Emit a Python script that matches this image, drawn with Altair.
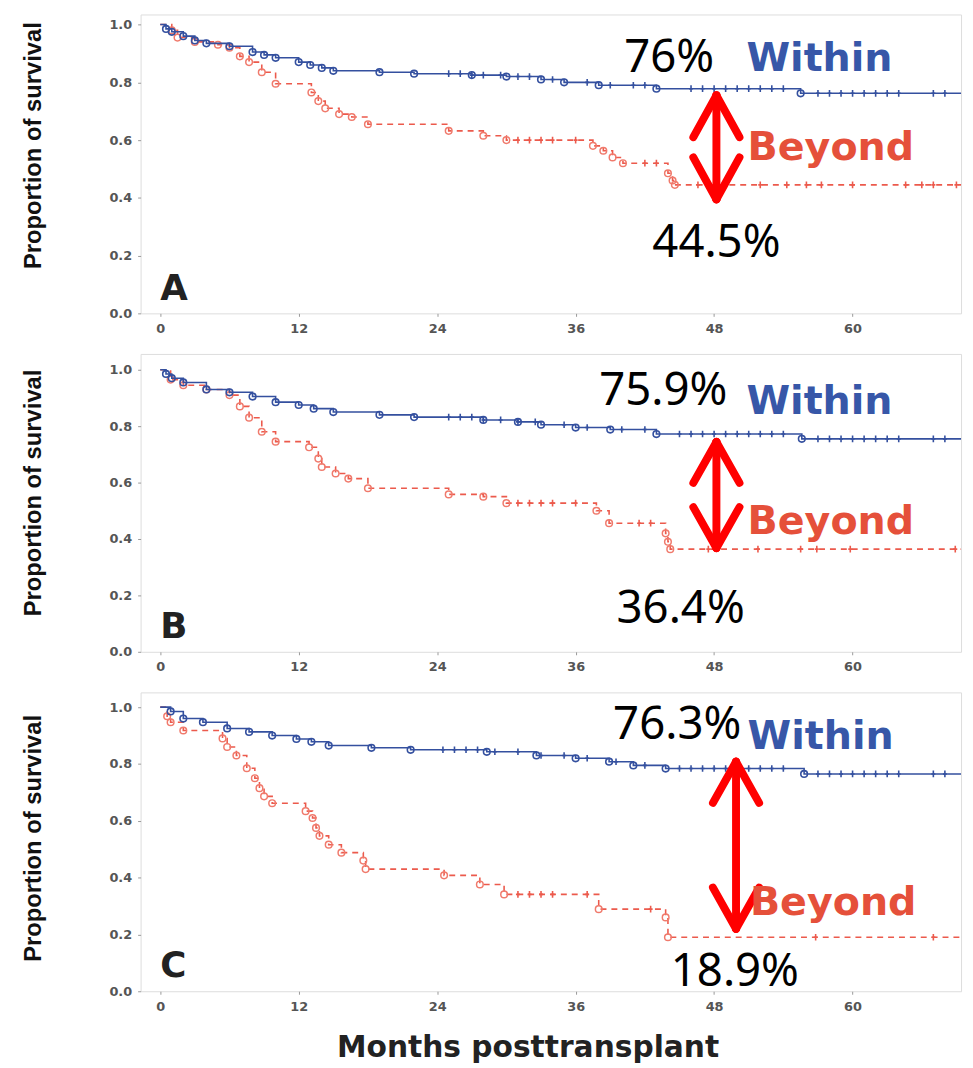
import altair as alt
import pandas as pd

# ---------------- data ----------------
X_DOMAIN = [-1.7, 69.4]
y_top = [1.035, 1.056, 1.052]
panel_heights = [302, 301, 302]
x_ticks = [0, 12, 24, 36, 48, 60]
y_ticks = [0.0, 0.2, 0.4, 0.6, 0.8, 1.0]
panel_letters = ["A", "B", "C"]

# Panel A
a_within_t = [0, 0.5, 1, 2, 3, 4, 6, 8, 9, 10, 12, 13, 14, 15, 19, 22, 27, 30, 33, 35, 38, 43, 55.5, 69.4]
a_within_s = [1.0, 0.985, 0.975, 0.96, 0.945, 0.935, 0.925, 0.905, 0.895, 0.885, 0.87, 0.86, 0.85, 0.84,
              0.835, 0.83, 0.825, 0.82, 0.81, 0.80, 0.79, 0.778, 0.762, 0.762]
a_beyond_t = [0, 1.0, 1.5, 3, 5, 6, 6.9, 7.7, 8.8, 10, 13.1, 13.7, 14.3, 15.5, 16.6, 18, 25, 28, 30,
              37.5, 38.4, 39.2, 40.1, 44, 44.4, 44.6, 69.4]
a_beyond_s = [1.0, 0.98, 0.955, 0.94, 0.93, 0.92, 0.89, 0.87, 0.835, 0.795, 0.765, 0.735, 0.71, 0.69, 0.68,
              0.655, 0.632, 0.615, 0.6, 0.58, 0.563, 0.54, 0.52, 0.485, 0.46, 0.445, 0.445]
a_within_plus = [25, 26, 27, 28, 29.5, 31, 32, 34, 37, 39, 41, 42, 46, 47, 48, 49, 50, 51, 52, 53, 54,
                 57, 58, 59, 60, 61, 62, 63, 64, 67, 68]
a_beyond_plus = [31, 32, 33, 34, 36, 42, 43, 46.6, 52, 54.3, 56, 57.3, 60, 64.6, 66, 67, 69]

# Panel B
b_within_t = [0, 0.5, 1, 2, 4, 6, 8, 10, 12, 13.3, 15, 19, 22, 28, 31, 33, 36, 39, 43, 55.6, 69.4]
b_within_s = [1.0, 0.985, 0.97, 0.955, 0.93, 0.92, 0.905, 0.885, 0.875, 0.862, 0.85, 0.84, 0.832, 0.822,
              0.815, 0.805, 0.795, 0.788, 0.772, 0.755, 0.755]
b_beyond_t = [0, 0.9, 2, 4, 6, 6.9, 7.7, 8.8, 10, 12.9, 13.7, 14, 15.2, 16.3, 18, 25, 28, 30, 37.8, 38.9,
              43.8, 44, 44.2, 69.4]
b_beyond_s = [1.0, 0.965, 0.945, 0.93, 0.91, 0.87, 0.83, 0.78, 0.745, 0.725, 0.685, 0.655, 0.632, 0.614,
              0.58, 0.558, 0.55, 0.527, 0.5, 0.456, 0.42, 0.39, 0.364, 0.364]
b_within_plus = [25, 26, 27, 28, 29.5, 31, 32.5, 35, 37, 40, 42, 45, 46, 47, 48, 49, 50, 51, 52, 53, 54,
                 57, 58, 59, 60, 61, 62, 63, 64, 67, 68]
b_beyond_plus = [31, 32, 33, 34, 36, 41.5, 42.5, 47.5, 51.8, 55.5, 56.9, 59.8, 68.9]

# Panel C
c_within_t = [0, 0.9, 2, 3.7, 5.8, 7.7, 9.7, 11.8, 13.1, 14.6, 18.3, 21.7, 28.3, 32.6, 36, 38.9, 41, 43.8,
              55.8, 69.4]
c_within_s = [1.0, 0.985, 0.96, 0.947, 0.925, 0.913, 0.9, 0.888, 0.878, 0.865, 0.857, 0.85, 0.843, 0.83,
              0.82, 0.808, 0.795, 0.784, 0.765, 0.765]
c_beyond_t = [0, 0.6, 0.9, 2, 5.4, 5.8, 6.6, 7.5, 8.2, 8.6, 9, 9.7, 12.6, 13.2, 13.5, 13.8, 14.6, 15.7,
              17.6, 17.8, 24.6, 27.7, 29.8, 38, 43.8, 44, 69.4]
c_beyond_s = [1.0, 0.968, 0.947, 0.918, 0.89, 0.86, 0.83, 0.785, 0.75, 0.715, 0.686, 0.662, 0.634, 0.61,
              0.575, 0.547, 0.516, 0.488, 0.46, 0.43, 0.408, 0.376, 0.341, 0.289, 0.26, 0.19, 0.19]
c_within_plus = [24.5, 25.5, 26.5, 27.5, 29, 31, 33, 35, 37, 39.5, 42, 45, 46, 47, 48, 49, 50, 51, 52, 53,
                 54, 57, 58, 59, 60, 61, 62, 63, 64, 67, 68]
c_beyond_plus = [31, 32, 33, 34, 37, 42.5, 56.8, 67]

# Annotations (data units)
pct_top_text = ["76%", "75.9%", "76.3%"]
pct_top_x = [44.1, 43.6, 44.8]
pct_top_y = [0.835, 0.874, 0.889]
pct_bot_text = ["44.5%", "36.4%", "18.9%"]
pct_bot_x = [48.2, 45.1, 49.8]
pct_bot_y = [0.195, 0.102, 0.02]
within_lab_x = [50.8, 50.8, 50.9]
within_lab_y = [0.84, 0.842, 0.854]
beyond_lab_x = [50.9, 50.9, 51.1]
beyond_lab_y = [0.53, 0.418, 0.268]
arrow_x = [48.2, 48.2, 49.9]
arrow_top = [0.755, 0.744, 0.808]
arrow_bottom = [0.395, 0.368, 0.22]
head_dx = 2.0
head_dy = 0.145
letter_x = [0.0, 0.0, 0.0]
letter_y = [0.045, 0.05, 0.05]
ytitle_pos = [132, 140, 147]

BLUE = "#34509f"
RED = "#ec5a4c"
RED_MARK = "#f07a6c"
WITHIN_TXT = "#3757a8"
BEYOND_TXT = "#e5503a"


def step_val(ts, ss, t):
    v = ss[0]
    for ti, si in zip(ts, ss):
        if ti <= t:
            v = si
    return v


def panel(i, wt, ws, bt, bs, wplus, bplus, last):
    axis_kw = dict(values=x_ticks, labelFont="DejaVu Sans", labelFontWeight="bold", labelFontSize=13,
                   labelColor="#555", tickSize=3, tickColor="#999", domain=False, grid=False,
                   labelPadding=6)
    if last:
        axis_kw.update(title="Months posttransplant", titleFont="DejaVu Sans", titleFontSize=30,
                       titleFontWeight="bold", titleColor="#222", titleX=391, titleY=66,
                       titleBaseline="alphabetic")
    else:
        axis_kw.update(title=None)
    X = alt.X("t:Q", scale=alt.Scale(domain=X_DOMAIN, nice=False, zero=False), axis=alt.Axis(**axis_kw))
    Y = alt.Y("s:Q", scale=alt.Scale(domain=[0, y_top[i]], nice=False),
              axis=alt.Axis(values=y_ticks, format=".1f", labelFont="DejaVu Sans", labelFontWeight="bold",
                            labelFontSize=13, labelColor="#555", tickSize=3, tickColor="#999",
                            domain=False, grid=False, labelPadding=6,
                            title="Proportion of survival",
                            titleFont="Liberation Sans", titleFontSize=24, titleFontWeight="bold",
                            titleColor="#111", titleX=-96, titleY=ytitle_pos[i], titleBaseline="bottom"))

    w_df = pd.DataFrame({"t": wt, "s": ws})
    b_df = pd.DataFrame({"t": bt, "s": bs})
    wc_df = pd.DataFrame({"t": wt[1:-1], "s": ws[1:-1]})
    bc_df = pd.DataFrame({"t": bt[1:-1], "s": bs[1:-1]})
    wp_df = pd.DataFrame({"t": wplus, "s": [step_val(wt, ws, t) for t in wplus]})
    bp_df = pd.DataFrame({"t": bplus, "s": [step_val(bt, bs, t) for t in bplus]})

    b_line = alt.Chart(b_df).mark_line(interpolate="step-after", color=RED, strokeWidth=1.6,
                                       strokeDash=[6, 5]).encode(x=X, y=Y)
    b_circ = alt.Chart(bc_df).mark_point(shape="circle", filled=False, color=RED_MARK, size=45,
                                         strokeWidth=1.5, opacity=1).encode(x="t:Q", y="s:Q")
    b_plus = alt.Chart(bp_df).mark_point(shape="M0,-1L0,1M-0.6,0L0.6,0", filled=False, color=RED,
                                         size=45, strokeWidth=1.6, opacity=1).encode(x="t:Q", y="s:Q")
    w_line = alt.Chart(w_df).mark_line(interpolate="step-after", color=BLUE, strokeWidth=1.6).encode(
        x="t:Q", y="s:Q")
    w_circ = alt.Chart(wc_df).mark_point(shape="circle", filled=False, color=BLUE, size=45,
                                         strokeWidth=1.6, opacity=1).encode(x="t:Q", y="s:Q")
    w_plus = alt.Chart(wp_df).mark_point(shape="M0,-1L0,1M-0.6,0L0.6,0", filled=False, color=BLUE,
                                         size=45, strokeWidth=1.6, opacity=1).encode(x="t:Q", y="s:Q")

    ax = arrow_x[i]
    top = arrow_top[i]
    bot = arrow_bottom[i]
    arrow_df = pd.DataFrame({
        "t": [ax, ax, ax, ax, ax],
        "s": [top, top, top, bot, bot],
        "t2": [ax, ax - head_dx, ax + head_dx, ax - head_dx, ax + head_dx],
        "s2": [bot, top - head_dy, top - head_dy, bot + head_dy, bot + head_dy],
    })
    arrow = alt.Chart(arrow_df).mark_rule(color="#ff0000", strokeWidth=8, strokeCap="round").encode(
        x="t:Q", y="s:Q", x2="t2:Q", y2="s2:Q")

    pct_df = pd.DataFrame({"t": [pct_top_x[i], pct_bot_x[i]], "s": [pct_top_y[i], pct_bot_y[i]],
                           "label": [pct_top_text[i], pct_bot_text[i]]})
    pct = alt.Chart(pct_df).mark_text(font="Noto Sans", fontSize=46, color="#000", align="center",
                                      baseline="alphabetic").encode(x="t:Q", y="s:Q", text="label:N")
    w_lab = alt.Chart(pd.DataFrame({"t": [within_lab_x[i]], "s": [within_lab_y[i]], "label": ["Within"]})
                      ).mark_text(font="DejaVu Sans", fontWeight="bold", fontSize=40, color=WITHIN_TXT,
                                  align="left", baseline="alphabetic").encode(x="t:Q", y="s:Q", text="label:N")
    b_lab = alt.Chart(pd.DataFrame({"t": [beyond_lab_x[i]], "s": [beyond_lab_y[i]], "label": ["Beyond"]})
                      ).mark_text(font="DejaVu Sans", fontWeight="bold", fontSize=40, color=BEYOND_TXT,
                                  align="left", baseline="alphabetic").encode(x="t:Q", y="s:Q", text="label:N")
    letter = alt.Chart(pd.DataFrame({"t": [letter_x[i]], "s": [letter_y[i]], "label": [panel_letters[i]]})
                       ).mark_text(font="DejaVu Sans", fontWeight="bold", fontSize=36, color="#222",
                                   align="left", baseline="alphabetic").encode(x="t:Q", y="s:Q", text="label:N")

    return alt.layer(b_line, b_circ, b_plus, w_line, w_circ, w_plus, arrow, pct, w_lab, b_lab,
                     letter).properties(width=829, height=panel_heights[i])


pA = panel(0, a_within_t, a_within_s, a_beyond_t, a_beyond_s, a_within_plus, a_beyond_plus, False)
pB = panel(1, b_within_t, b_within_s, b_beyond_t, b_beyond_s, b_within_plus, b_beyond_plus, False)
pC = panel(2, c_within_t, c_within_s, c_beyond_t, c_beyond_s, c_within_plus, c_beyond_plus, True)

chart = alt.vconcat(pA, pB, pC, spacing=41, bounds="flush").properties(
    padding={"left": 13, "top": 0, "right": 0, "bottom": 0}
).configure_view(stroke="#8c8c8c", strokeWidth=1.5).configure(background="white")

chart.save("out.html", embed_options={"renderer": "svg", "actions": False})
